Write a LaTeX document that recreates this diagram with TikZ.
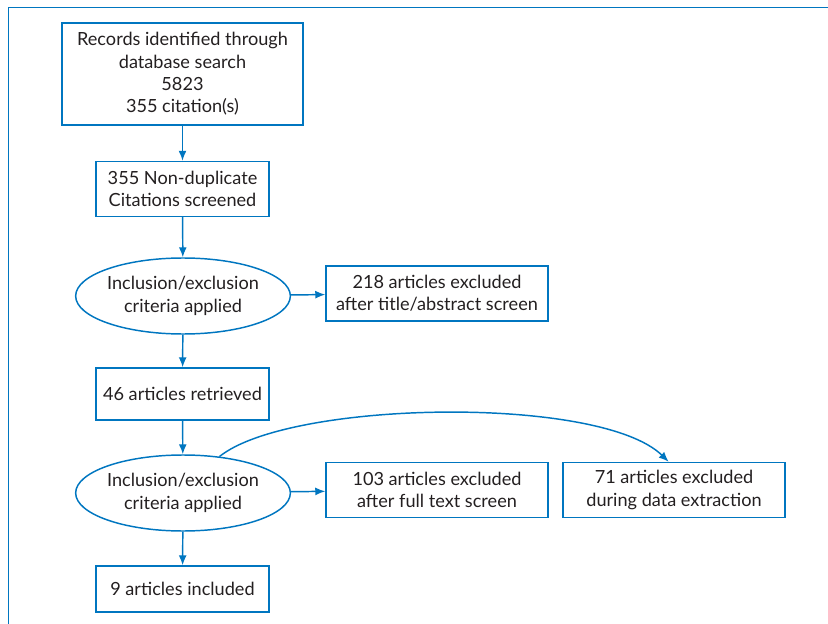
\documentclass[tikz,border=0pt]{standalone}
\usepackage{fontspec}
\setmainfont{Lato}
\usetikzlibrary{arrows.meta,shapes.geometric}
\definecolor{flowblue}{RGB}{0,118,192}
\definecolor{flowtext}{RGB}{35,31,32}

\begin{document}
\begin{tikzpicture}[x=0.75pt,y=-0.75pt,>={Latex[length=7.5pt,width=6pt]},
	box/.style={draw=flowblue,line width=1.1pt,align=center,text=flowtext,
		font=\fontsize{13.6}{16.7}\selectfont,inner sep=2pt},
	crit/.style={box,ellipse,inner sep=0pt,minimum width=159pt,minimum height=57pt},
	flow/.style={->,color=flowblue,line width=1.1pt}]
	\useasboundingbox (0,0) rectangle (828,624);
	\draw[flowblue,line width=1.3pt] (8.5,624) -- (8.5,7.5) -- (828,7.5);
	\node[box,minimum width=180.75pt,minimum height=76.5pt] (rec) at (182.5,74)
		{Records identified through\\database search\\5823\\355 citation(s)};
	\node[box,minimum width=129.75pt,minimum height=41.25pt] (nondup) at (182.5,189)
		{355 Non-duplicate\\Citations screened};
	\node[crit] (crit1) at (183,296) {Inclusion/exclusion\\criteria applied};
	\node[box,minimum width=166.5pt,minimum height=41.25pt] (excl1) at (437,293.5)
		{218 articles excluded\\after title/abstract screen};
	\node[box,minimum width=129.75pt,minimum height=39pt] (retr) at (182.5,394)
		{46 articles retrieved};
	\node[crit] (crit2) at (183,493) {Inclusion/exclusion\\criteria applied};
	\node[box,minimum width=166.5pt,minimum height=41.25pt] (excl2) at (437,490)
		{103 articles excluded\\after full text screen};
	\node[box,minimum width=166.5pt,minimum height=41.25pt] (excl3) at (674,490)
		{71 articles excluded\\during data extraction};
	\node[box,minimum width=129.75pt,minimum height=34.5pt] (incl) at (182.5,589)
		{9 articles included};
	\path[flow]
	(rec) edge (nondup)
	(nondup) edge (crit1)
	(crit1) edge (retr)
		edge (excl1)
	(retr) edge (crit2)
	(crit2) edge (incl)
		edge (excl2);
	\draw[flow] (crit2.45) .. controls (290,400) and (600,395) .. ([xshift=-4pt]excl3.north);
\end{tikzpicture}
\end{document}
